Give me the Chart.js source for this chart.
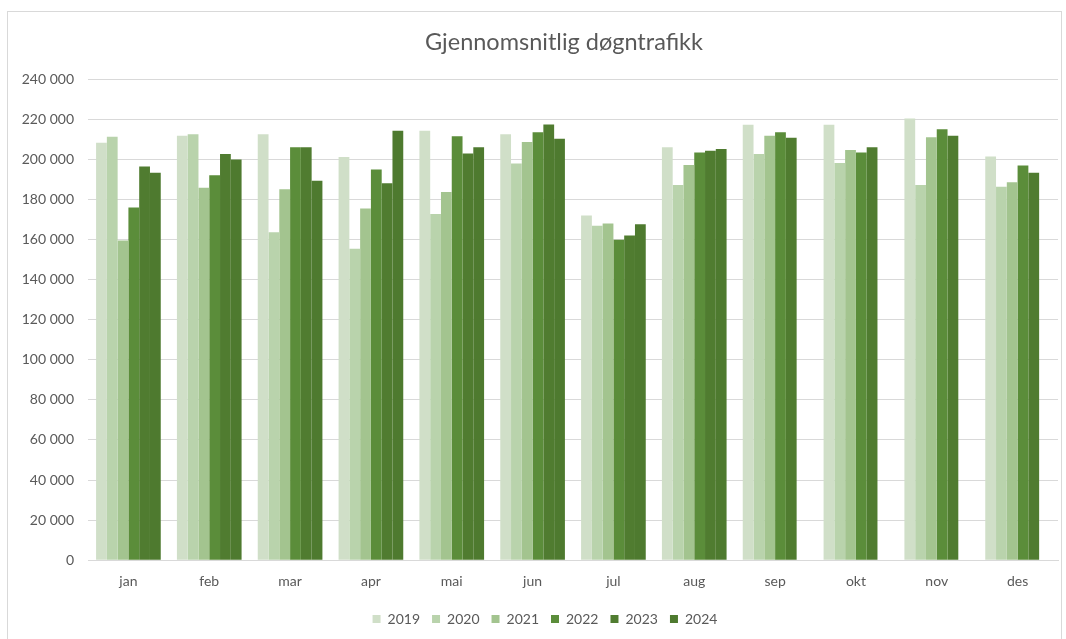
<!DOCTYPE html>
<html>
<head>
<meta charset="utf-8">
<script src="https://cdn.jsdelivr.net/npm/chart.js@4"></script>
<style>
  html, body { margin: 0; padding: 0; background: #fff; }
  #wrap { position: relative; width: 1066px; height: 639px; overflow: hidden; }
  #frame { position: absolute; left: 7px; top: 11px; width: 1055px; height: 700px; border: 1px solid #d9d9d9; box-sizing: border-box; }
  canvas { position: absolute; left: 0; top: 0; }
</style>
</head>
<body>
<div id="wrap">
  <div id="frame"></div>
  <canvas id="chart" width="1066" height="639"></canvas>
</div>
<script>
const months = ['jan', 'feb', 'mar', 'apr', 'mai', 'jun', 'jul', 'aug', 'sep', 'okt', 'nov', 'des'];
const years = ['2019', '2020', '2021', '2022', '2023', '2024'];

const y2019 = [208200, 211700, 212500, 201100, 214200, 212500, 171900, 205900, 217200, 217200, 220300, 201400];
const y2020 = [211200, 212500, 163600, 155300, 172700, 197800, 166800, 187100, 202600, 198100, 187100, 186300];
const y2021 = [159500, 185800, 185000, 175400, 183700, 208600, 167900, 197100, 211700, 204600, 211000, 188500];
const y2022 = [175900, 192000, 205900, 194900, 211500, 213400, 159800, 203300, 213400, 203300, 215000, 196800];
const y2023 = [196300, 202600, 205900, 188000, 202900, 217300, 162000, 204200, 210700, 205900, 211700, 193300];
const y2024 = [193300, 199800, 189300, 214200, 205900, 210200, 167600, 205100, null, null, null, null];

const colors = ['#d0dfc8', '#b9d3ac', '#a3c48f', '#5b8d3a', '#507c30', '#4e7a2f'];
const series = [y2019, y2020, y2021, y2022, y2023, y2024];
const title = 'Gjennomsnitlig døgntrafikk';

const font = 'Lato, "Open Sans", sans-serif';
const textColor = '#595959';

function fmt(v) {
  return String(v).replace(/\B(?=(\d{3})+(?!\d))/g, ' ');
}

// title sits a bit right of centre in the original, so draw it by hand
const titlePlugin = {
  id: 'fixedTitle',
  afterDraw(chart) {
    const ctx = chart.ctx;
    ctx.save();
    ctx.font = '23.5px ' + font;
    ctx.fillStyle = textColor;
    ctx.textAlign = 'center';
    ctx.textBaseline = 'middle';
    ctx.fillText(title, 564, 42);
    ctx.restore();
  }
};

// nudge the legend to where it is in the original
const legendShift = {
  id: 'legendShift',
  afterLayout(chart) {
    const lg = chart.legend;
    lg.left += 12; lg.right += 12;
    lg.top -= 3; lg.bottom -= 3;
  }
};

(function() {
  try {
    new Chart(document.getElementById('chart'), {
      type: 'bar',
      data: {
        labels: months,
        datasets: series.map((d, i) => ({
          label: years[i],
          data: d,
          backgroundColor: colors[i],
          borderWidth: 0,
          categoryPercentage: 0.8,
          barPercentage: 1.0
        }))
      },
      plugins: [titlePlugin, legendShift],
      options: {
        responsive: false,
        animation: false,
        layout: { padding: { left: 8, right: 8, top: 79, bottom: 0 } },
        plugins: {
          title: { display: false },
          legend: {
            position: 'bottom',
            labels: {
              color: textColor,
              font: { family: font, size: 14 },
              boxWidth: 8,
              boxHeight: 8,
              padding: 12
            }
          },
          tooltip: { enabled: false }
        },
        scales: {
          x: {
            grid: { display: false, drawTicks: false },
            border: { display: true, color: '#d9d9d9', width: 1 },
            ticks: { color: textColor, font: { family: font, size: 14 }, padding: 13 }
          },
          y: {
            min: 0,
            max: 240000,
            afterFit: s => { s.width = 80; },
            grid: { color: '#d9d9d9', drawTicks: false },
            border: { display: false },
            ticks: {
              stepSize: 20000,
              color: textColor,
              font: { family: font, size: 14 },
              padding: 14,
              callback: v => fmt(v)
            }
          }
        }
      }
    });
  } catch (error) {
    console.error(error);
  }
})();
</script>
</body>
</html>
